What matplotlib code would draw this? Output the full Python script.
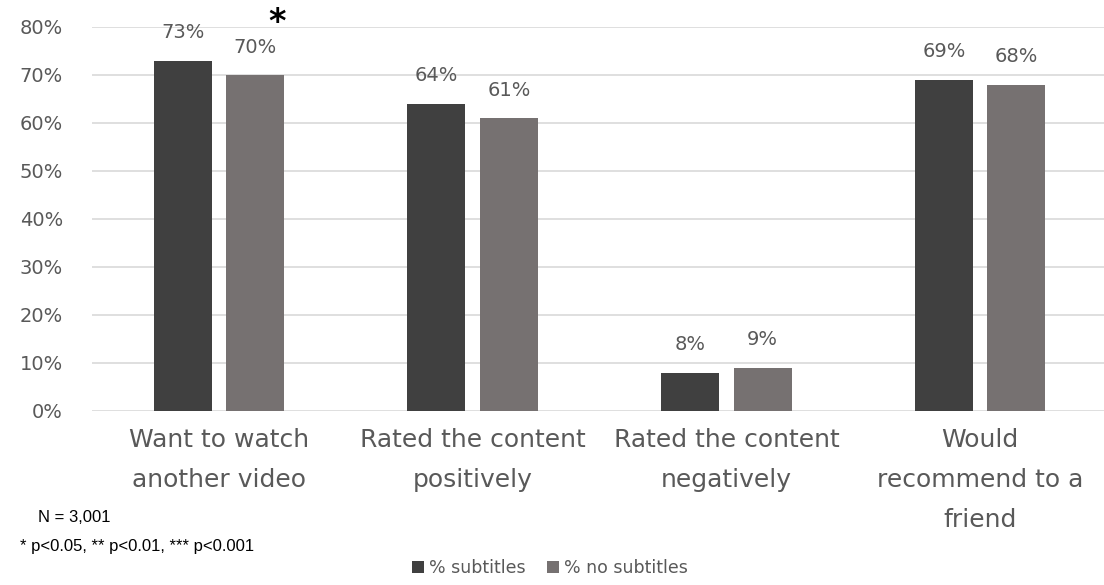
import matplotlib
matplotlib.use("Agg")
import matplotlib.pyplot as plt
import numpy as np

categories = ["Want to watch\nanother video", "Rated the content\npositively",
              "Rated the content\nnegatively", "Would\nrecommend to a\nfriend"]
subtitles = [73, 64, 8, 69]
no_subtitles = [70, 61, 9, 68]
series_names = ["% subtitles", "% no subtitles"]
yticks = [0, 10, 20, 30, 40, 50, 60, 70, 80]

FONT = ["DejaVu Sans"]
TXT = "#595959"

fig = plt.figure(figsize=(11.04, 5.85), dpi=100)
ax = fig.add_axes([92/1104, 1-411/585, 1015/1104, 384/585])

x = np.arange(len(categories))
w = 0.228
off = 0.143
b1 = ax.bar(x - off, subtitles, w, color="#404040", label=series_names[0], zorder=3)
b2 = ax.bar(x + off, no_subtitles, w, color="#767171", label=series_names[1], zorder=3)

for bars, vals in ((b1, subtitles), (b2, no_subtitles)):
    for r, v in zip(bars, vals):
        ax.text(r.get_x() + r.get_width()/2, v + 5.8, f"{v}%", ha="center", va="center",
                fontsize=14, color=TXT, family=FONT, clip_on=False)

# significance star
ax.text(x[0] + off + 0.085, 81.0, "*", ha="center", va="center", fontsize=24,
        fontweight="bold", color="black", clip_on=False)

ax.set_xlim(-0.5, len(categories) - 0.5)
ax.set_ylim(0, 80)
ax.set_yticks(yticks)
ax.set_yticklabels([f"{t}%" for t in yticks], family=FONT, fontsize=14, color=TXT)
ax.set_xticks(x)
ax.set_xticklabels(categories, family=FONT, fontsize=18, color=TXT, linespacing=1.85)
ax.tick_params(axis="both", length=0)
ax.tick_params(axis="y", pad=21)
ax.tick_params(axis="x", pad=12)
for s in ax.spines.values():
    s.set_visible(False)
ax.yaxis.grid(True, color="#d9d9d9", linewidth=1.2, zorder=0)
ax.set_axisbelow(True)

fig.text(38/1104, 1-518/585, "N = 3,001", fontsize=12, color="black",
         family=["Liberation Sans"], va="center")
fig.text(20/1104, 1-547/585, "* p<0.05, ** p<0.01, *** p<0.001", fontsize=12,
         color="black", family=["Liberation Sans"], va="center")

leg = fig.legend(handles=[b1, b2], labels=series_names, loc="center",
                 bbox_to_anchor=(550/1104, 1-568/585), ncol=2, frameon=False,
                 prop={"family": FONT, "size": 12.5}, handlelength=0.7, handleheight=0.7,
                 handletextpad=0.3, columnspacing=1.2)
for t in leg.get_texts():
    t.set_color(TXT)

fig.savefig("out.png", dpi=100)
